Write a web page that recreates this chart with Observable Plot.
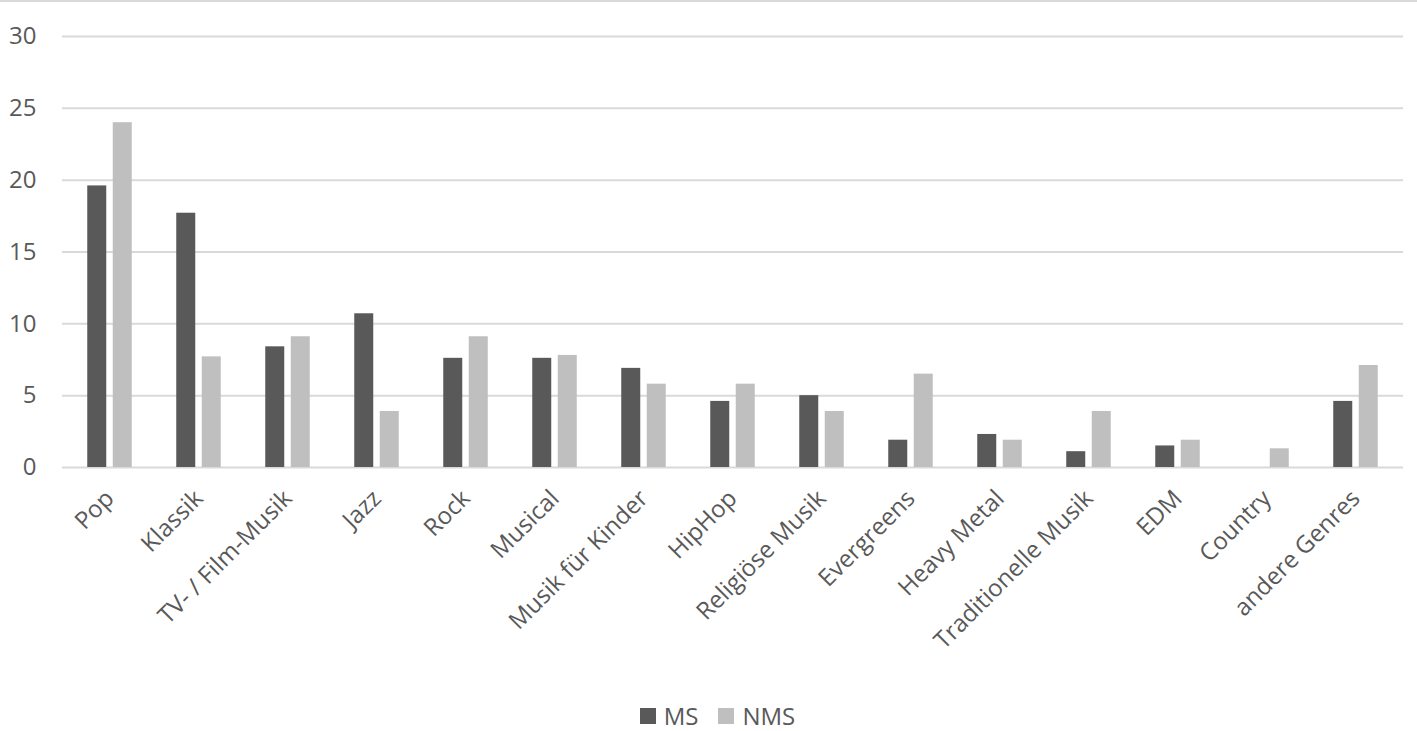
<!DOCTYPE html>
<html>
<head>
<meta charset="utf-8">
<script src="https://cdn.jsdelivr.net/npm/d3@7"></script>
<script src="https://cdn.jsdelivr.net/npm/@observablehq/plot@0.6"></script>
<style>
  html, body { margin: 0; padding: 0; background: #fff; }
  #wrap { width: 1417px; height: 731px; box-sizing: border-box; border-top: 2px solid #d9d9d9; position: relative; overflow: hidden; }
  #legend { position: absolute; left: 0; top: 700px; height: 28px; line-height: 28px; width: 1417px; display: flex; justify-content: center; align-items: center; font-family: "Open Sans", sans-serif; font-size: 24px; color: #595959; padding-left: 18px; box-sizing: border-box; }
  .item { display: flex; align-items: center; margin: 0 10px; }
  .sw { width: 16px; height: 16px; margin-right: 8px; }
</style>
</head>
<body>
<div id="wrap">
  <div id="chart"></div>
  <div id="legend"></div>
</div>
<script>
const genres = ["Pop","Klassik","TV- / Film-Musik","Jazz","Rock","Musical","Musik für Kinder","HipHop","Religiöse Musik","Evergreens","Heavy Metal","Traditionelle Musik","EDM","Country","andere Genres"];
const series = ["MS","NMS"];
const msValues  = [19.6, 17.7, 8.4, 10.7, 7.6, 7.6, 6.9, 4.6, 5.0, 1.9, 2.3, 1.1, 1.5, 0, 4.6];
const nmsValues = [24.0, 7.7, 9.1, 3.9, 9.1, 7.8, 5.8, 5.8, 3.9, 6.5, 1.9, 3.9, 1.9, 1.3, 7.1];
const yTicks = [0, 5, 10, 15, 20, 25, 30];
const colors = ["#595959", "#bfbfbf"];

const msData = genres.map((g, i) => ({genre: g, series: "MS", value: msValues[i]}));
const nmsData = genres.map((g, i) => ({genre: g, series: "NMS", value: nmsValues[i]}));

// band step ≈ 89.4px; bar width ≈ 19.5px; offset of each bar from group centre ≈ 12.75px
const chart = Plot.plot({
  width: 1417,
  height: 688,
  marginLeft: 62,
  marginRight: 14,
  marginTop: 34,
  marginBottom: 223,
  style: {fontFamily: "Open Sans, sans-serif", color: "#595959", background: "#fff"},
  x: {domain: genres, paddingInner: 0.782, paddingOuter: 0.391, label: null},
  y: {domain: [0, 30], label: null},
  color: {domain: series, range: colors},
  marks: [
    Plot.ruleY(yTicks, {stroke: "#d9d9d9", strokeWidth: 2}),
    Plot.barY(msData, {x: "genre", y: "value", fill: "series", dx: -12.75}),
    Plot.barY(nmsData, {x: "genre", y: "value", fill: "series", dx: 12.75}),
    Plot.axisY({ticks: yTicks, tickSize: 0, tickPadding: 26, fontSize: 24, fill: "#595959", label: null}),
    Plot.axisX({tickRotate: -45, tickSize: 0, tickPadding: 27, fontSize: 24, fill: "#595959", label: null})
  ]
});
document.getElementById("chart").appendChild(chart);

const legend = document.getElementById("legend");
series.forEach((s, i) => {
  const item = document.createElement("div");
  item.className = "item";
  const sw = document.createElement("div");
  sw.className = "sw";
  sw.style.background = colors[i];
  const t = document.createElement("span");
  t.textContent = s;
  item.appendChild(sw);
  item.appendChild(t);
  legend.appendChild(item);
});
</script>
</body>
</html>
